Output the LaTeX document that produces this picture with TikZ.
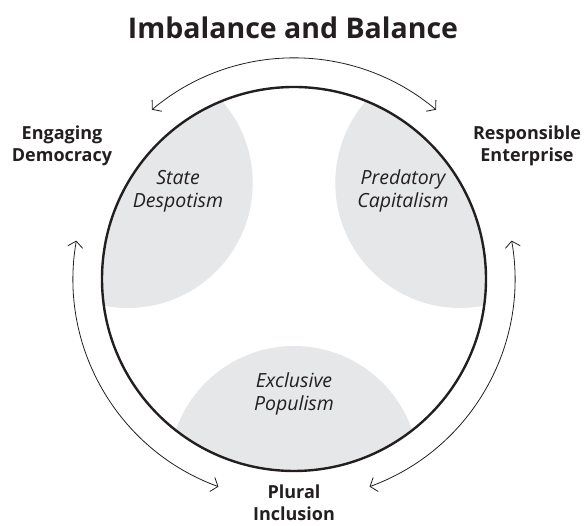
\documentclass[tikz,border=0pt]{standalone}
\usepackage{fontspec}
\setmainfont{Open Sans}
\usetikzlibrary{arrows.meta}
\definecolor{areagray}{HTML}{E6E7E8}
\definecolor{ink}{HTML}{231F20}
\begin{document}
\begin{tikzpicture}[x=1pt,y=1pt,
    swing/.style={{Straight Barb[length=6pt,width=15pt]}-{Straight Barb[length=6pt,width=15pt]},line width=0.8pt,ink},
    lab/.style={align=center,text=ink,font=\bfseries\fontsize{18}{22}\selectfont},
    area/.style={align=center,text=ink,font=\itshape\fontsize{19.5}{23}\selectfont}]
  \useasboundingbox (0,0) rectangle (584,526);
  \coordinate (c) at (294,247);
  % shaded areas, clipped to the ring
  \begin{scope}
    \clip (c) circle[radius=192];
    \foreach \a in {150,30,270}
      \fill[areagray] (c) ++(\a:192) circle[radius=125];
  \end{scope}
  \draw[ink,line width=2.4pt] (c) circle[radius=192];
  % arrows round the ring
  \draw[swing] (c) ++(130:221) arc[start angle=130,end angle=50,radius=221];
  \draw[swing] (c) ++(170:221) arc[start angle=170,end angle=250,radius=221];
  \draw[swing] (c) ++(10:221) arc[start angle=10,end angle=-70,radius=221];
  \node[font=\bfseries\fontsize{28.5}{32}\selectfont,text=ink] (title) at (293,498) {Imbalance and Balance};
  \node[lab] (engaging) at (62,380) {Engaging\\Democracy};
  \node[lab] (responsible) at (527,380) {Responsible\\Enterprise};
  \node[lab] (plural) at (294,23) {Plural\\Inclusion};
  \node[area] (state) at (178,335) {State\\Despotism};
  \node[area] (predatory) at (403,335) {Predatory\\Capitalism};
  \node[area] (exclusive) at (294,132) {Exclusive\\Populism};
\end{tikzpicture}
\end{document}
